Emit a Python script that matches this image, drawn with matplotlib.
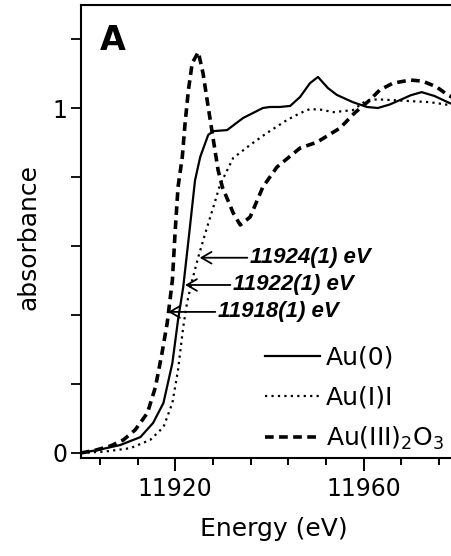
import matplotlib
matplotlib.use("Agg")
import matplotlib.pyplot as plt
from matplotlib.ticker import FixedLocator, MultipleLocator, FuncFormatter

# Au L3-edge XANES
e_au0 = [11900, 11904, 11908.3, 11912.6, 11915.3, 11917.5, 11919.4, 11920.6, 11921.7,
         11923, 11924.2, 11925.3, 11927.0, 11928.1, 11931.0, 11934.4, 11938.6, 11940.1,
         11942.2, 11944.4, 11946.5, 11948.6, 11950.3, 11952.4, 11954.3, 11957.7,
         11960.7, 11963, 11965.5, 11967.7, 11970, 11972.3, 11975, 11978.3, 11982, 11990]
a_au0 = [0, 0.01, 0.023, 0.046, 0.087, 0.145, 0.261, 0.386, 0.481,
         0.64, 0.79, 0.858, 0.922, 0.933, 0.936, 0.971, 1.0, 1.003,
         1.003, 1.006, 1.032, 1.072, 1.09, 1.058, 1.038, 1.017,
         1.003, 1.0, 1.01, 1.023, 1.037, 1.046, 1.035, 1.014, 1.0, 0.99]

e_au1 = [11900, 11905, 11910.5, 11914.7, 11917.5, 11919.4, 11920.6, 11921.7, 11922.5,
         11923.6, 11924.9, 11926.4, 11928.1, 11929.5, 11932.3, 11935.9, 11939.5,
         11943.7, 11946.5, 11948.6, 11951, 11953.6, 11957.7, 11960.7, 11963, 11966,
         11970, 11974, 11978, 11984, 11990]
a_au1 = [0, 0.004, 0.014, 0.038, 0.075, 0.145, 0.241, 0.365, 0.435,
         0.501, 0.568, 0.638, 0.713, 0.777, 0.855, 0.893, 0.928,
         0.965, 0.985, 0.997, 0.995, 0.988, 0.994, 1.023, 1.025, 1.023,
         1.02, 1.017, 1.009, 1.0, 0.995]

e_au3 = [11900, 11903, 11906.2, 11909.0, 11911.5, 11914.1, 11915.8, 11917.2, 11918.3,
         11919.4, 11920.0, 11920.6, 11921.5, 11922.1, 11922.8, 11923.6, 11924.9, 11925.9,
         11927.0, 11928.1, 11929.1, 11930.0, 11932.3, 11933.8, 11935.9, 11938.6, 11941.6,
         11946.5, 11950.1, 11955, 11958.1, 11961.3, 11963.4, 11966.2, 11969.9, 11972.5,
         11975.5, 11977.8, 11982, 11986, 11990]
a_au3 = [0, 0.008, 0.02, 0.038, 0.067, 0.116, 0.191, 0.29, 0.377,
         0.501, 0.646, 0.771, 0.858, 0.957, 1.052, 1.13, 1.162, 1.101,
         1.003, 0.907, 0.82, 0.771, 0.696, 0.661, 0.684, 0.771, 0.829,
         0.884, 0.901, 0.942, 0.986, 1.023, 1.052, 1.072, 1.081, 1.078,
         1.061, 1.038, 1.01, 0.99, 0.98]

# edge positions: label, arrow tip (E, A), text start E
edge_labels = ["11924(1) eV", "11922(1) eV", "11918(1) eV"]
edge_tips = [(11925.2, 0.566), (11922.1, 0.487), (11918.5, 0.409)]
edge_text_e = [11935.9, 11932.3, 11929.1]

fig = plt.figure(figsize=(4.52, 5.56), dpi=100)
ax = fig.add_axes([81 / 452, 98 / 556, 424 / 452, 453 / 556])

ax.plot(e_au0, a_au0, color="black", lw=1.6, label="Au(0)")
ax.plot(e_au1, a_au1, color="black", lw=1.6, linestyle=(0, (1, 1.9)), label="Au(I)I")
ax.plot(e_au3, a_au3, color="black", lw=2.6, linestyle=(0, (2.4, 1.5)),
        label=r"Au(III)$_2$O$_3$")

for lab, tip, te in zip(edge_labels, edge_tips, edge_text_e):
    ax.annotate(lab, xy=tip, xytext=(te, tip[1]), ha="left", va="center",
                fontsize=16, fontweight="bold", style="italic",
                family="Liberation Sans",
                arrowprops=dict(arrowstyle="->,head_length=0.6,head_width=0.35",
                                lw=1.3, color="black", shrinkA=0, shrinkB=0,
                                mutation_scale=12))

ax.set_xlim(11900, 11990)
ax.set_ylim(-0.0145, 1.2986)

ax.xaxis.set_major_locator(FixedLocator([11920, 11960]))
ax.xaxis.set_minor_locator(MultipleLocator(8))
ax.yaxis.set_major_locator(FixedLocator([0, 0.2, 0.4, 0.6, 0.8, 1.0, 1.2]))
ax.yaxis.set_major_formatter(FuncFormatter(lambda v, p: {0: "0", 1: "1"}.get(round(v, 3), "")))

ax.tick_params(axis="x", which="major", length=9, width=1.4, pad=5, labelsize=17)
ax.tick_params(axis="x", which="minor", length=5, width=1.4)
ax.tick_params(axis="y", which="major", length=7, width=1.3, pad=3, labelsize=17)

ax.spines["right"].set_visible(False)
for s in ["left", "bottom", "top"]:
    ax.spines[s].set_linewidth(1.5)

ax.set_xlabel("Energy (eV)", fontsize=18)
ax.xaxis.set_label_coords(0.455, -0.13)
ax.set_ylabel("absorbance", fontsize=18)
ax.yaxis.set_label_coords(-0.095, 0.488)

ax.text(11903.9, 1.168, "A", fontsize=24, fontweight="bold", ha="left", va="baseline")

ax.legend(loc="upper left", bbox_to_anchor=(265 / 452, 1 - 346 / 556),
          bbox_transform=fig.transFigure, frameon=False, fontsize=18,
          handlelength=2.2, handletextpad=0.25, labelspacing=0.62,
          borderpad=0, borderaxespad=0)

fig.savefig("out.png", dpi=100)
